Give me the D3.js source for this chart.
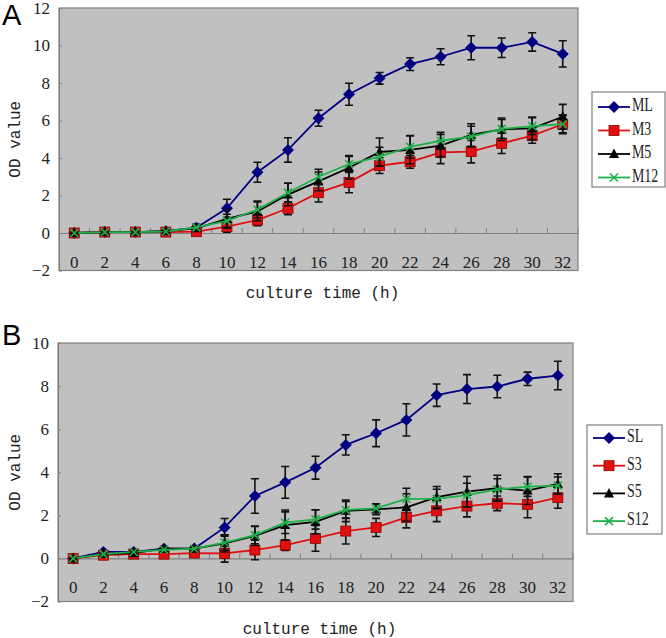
<!DOCTYPE html>
<html><head><meta charset="utf-8">
<script src="https://cdn.jsdelivr.net/npm/d3@7"></script>
<style>body{margin:0;background:#fff;}svg{display:block;}</style>
</head><body>
<svg id="chart" width="666" height="638"></svg>
<script>
const categories = [0,2,4,6,8,10,12,14,16,18,20,22,24,26,28,30,32];

// Panel A
const ML  = [0,0.05,0.05,0.1,0.28,1.32,3.24,4.43,6.12,7.4,8.25,9.01,9.4,9.88,9.88,10.19,9.55];
const MLe = [0.02,0.03,0.03,0.05,0.2,0.48,0.53,0.65,0.43,0.59,0.31,0.34,0.43,0.64,0.52,0.49,0.7];
const M3  = [0,0.05,0.05,0.05,0.07,0.34,0.69,1.32,2.15,2.7,3.59,3.8,4.3,4.34,4.78,5.19,5.8];
const M3e = [0.02,0.03,0.03,0.05,0.1,0.3,0.3,0.35,0.5,0.55,0.42,0.35,0.6,0.6,0.54,0.4,0.45];
const M5  = [0,0.05,0.05,0.1,0.25,0.75,1.15,2.05,2.75,3.48,4.32,4.43,4.66,5.23,5.53,5.58,6.2];
const M5e = [0.02,0.03,0.03,0.05,0.15,0.5,0.5,0.6,0.5,0.6,0.75,0.75,0.6,0.6,0.6,0.6,0.66];
const M12 = [0,0.05,0.05,0.08,0.3,0.65,1.25,2.15,3.0,3.68,4.07,4.6,4.92,5.14,5.55,5.7,5.8];
const M12e= [0.02,0.03,0.03,0.05,0.15,0.35,0.45,0.5,0.4,0.45,0.5,0.6,0.45,0.55,0.5,0.45,0.5];

// Panel B
const SL  = [0,0.3,0.3,0.45,0.46,1.44,2.9,3.53,4.21,5.27,5.81,6.43,7.58,7.86,7.98,8.34,8.49];
const SLe = [0.02,0.05,0.05,0.08,0.1,0.41,0.8,0.74,0.53,0.47,0.62,0.75,0.52,0.67,0.52,0.31,0.66];
const S3  = [0,0.15,0.2,0.2,0.25,0.23,0.39,0.62,0.93,1.27,1.44,1.9,2.21,2.43,2.56,2.51,2.82];
const S3e = [0.02,0.05,0.05,0.05,0.08,0.4,0.45,0.25,0.6,0.6,0.42,0.48,0.5,0.5,0.34,0.62,0.49];
const S5  = [0,0.2,0.25,0.45,0.45,0.7,1.05,1.55,1.7,2.21,2.28,2.37,2.84,3.1,3.26,3.15,3.46];
const S5e = [0.02,0.05,0.05,0.1,0.1,0.4,0.45,0.7,0.56,0.5,0.25,0.63,0.5,0.7,0.6,0.65,0.47];
const S12 = [0,0.2,0.3,0.4,0.45,0.73,1.08,1.66,1.81,2.25,2.32,2.76,2.76,2.94,3.2,3.33,3.38];
const S12e= [0.02,0.05,0.05,0.1,0.1,0.35,0.4,0.5,0.45,0.4,0.2,0.5,0.45,0.55,0.5,0.45,0.4];

const yTicksA = [-2,0,2,4,6,8,10,12];
const yTicksB = [-2,0,2,4,6,8,10];
const namesA = ["ML","M3","M5","M12"];
const namesB = ["SL","S3","S5","S12"];

const colors = ["#000080","#e01010","#000000","#1fb04a"];
const shapes = ["diamond","square","triangle","x"];

const SERIF = "'Liberation Serif', 'Times New Roman', serif";
const MONO = "'Liberation Mono', 'DejaVu Sans Mono', monospace";

const svg = d3.select("#chart");

function marker(g, shape, color, cx, cy) {
  if (shape === "diamond") {
    g.append("path").attr("d", `M${cx},${cy-6}L${cx+6},${cy}L${cx},${cy+6}L${cx-6},${cy}Z`)
      .attr("fill", color);
  } else if (shape === "square") {
    g.append("rect").attr("x",cx-5).attr("y",cy-5).attr("width",10).attr("height",10)
      .attr("fill", color).attr("stroke","#8a0000").attr("stroke-width",0.8);
  } else if (shape === "triangle") {
    g.append("path").attr("d", `M${cx},${cy-5.5}L${cx+5},${cy+4}L${cx-5},${cy+4}Z`)
      .attr("fill", color);
  } else {
    g.append("path").attr("d", `M${cx-4},${cy-4}L${cx+4},${cy+4}M${cx-4},${cy+4}L${cx+4},${cy-4}`)
      .attr("stroke", color).attr("stroke-width",1.6).attr("fill","none");
  }
}

function panel(cfg) {
  const {left,right,top,bottom,yDomain,yTicks,series,errors,names,letter,legend} = cfg;
  const g = svg.append("g");
  const x = d3.scaleBand().domain(categories).range([left,right]).padding(0);
  const y = d3.scaleLinear().domain(yDomain).range([bottom,top]);
  const cx = d => x(d) + x.bandwidth()/2;

  g.append("rect").attr("x",left).attr("y",top).attr("width",right-left).attr("height",bottom-top)
    .attr("fill","#c0c0c0").attr("stroke","#808080").attr("stroke-width",1.2);

  // y axis
  const ya = g.append("g").attr("transform",`translate(${left},0)`)
    .call(d3.axisLeft(y).tickValues(yTicks).tickSizeInner(-3).tickSizeOuter(0).tickPadding(9)
      .tickFormat(d => d < 0 ? "\u22122" : d));
  ya.attr("font-family",SERIF).attr("font-size",17);
  ya.select(".domain").attr("stroke","#808080");
  ya.selectAll(".tick line").attr("stroke","#808080");
  ya.selectAll("text").style("font-family",SERIF).style("font-size","17px").attr("fill","#222");

  // x axis at y=0
  const xa = g.append("g").attr("transform",`translate(0,${y(0)})`)
    .call(d3.axisBottom(x).tickSize(0).tickPadding(0));
  xa.attr("font-family",SERIF).attr("font-size",17);
  xa.select(".domain").attr("stroke","#808080").attr("stroke-width",1.2);
  xa.selectAll("text").attr("y",29).attr("dy","0.35em")
    .style("font-family",SERIF).style("font-size","17px").attr("fill","#222");
  const bounds = categories.map(c => x(c)).concat([right]);
  g.selectAll(".xb").data(bounds.slice(1)).enter().append("line")
    .attr("x1",d=>d).attr("x2",d=>d).attr("y1",y(0)).attr("y2",y(0)-5)
    .attr("stroke","#808080").attr("stroke-width",1);

  // series
  series.forEach((vals, si) => {
    const sg = g.append("g");
    const line = d3.line().x((d,i)=>cx(categories[i])).y(d=>y(d));
    sg.append("path").datum(vals).attr("d", line).attr("fill","none")
      .attr("stroke", colors[si]).attr("stroke-width",1.8);
    vals.forEach((v,i) => {
      const e = errors[si][i];
      const px = cx(categories[i]);
      sg.append("path").attr("d",`M${px},${y(v-e)}V${y(v+e)}M${px-4},${y(v-e)}H${px+4}M${px-4},${y(v+e)}H${px+4}`)
        .attr("stroke","#111").attr("stroke-width",1.6).attr("fill","none");
    });
    vals.forEach((v,i) => marker(sg, shapes[si], colors[si], cx(categories[i]), y(v)));
  });

  // axis titles
  g.append("text").attr("x",(left+right)/2+4).attr("y",cfg.xTitleY).attr("text-anchor","middle")
    .attr("dominant-baseline","middle").style("font-family",MONO).style("font-size","16px")
    .attr("fill","#222").text("culture time (h)");
  g.append("text").attr("transform",`translate(16,${(top+bottom)/2}) rotate(-90)`).attr("text-anchor","middle")
    .attr("dominant-baseline","middle").style("font-family",MONO).style("font-size","16px")
    .attr("fill","#222").text("OD value");
  g.append("text").attr("x",2).attr("y",cfg.letterY).style("font-family","'Liberation Sans', Arial, sans-serif").style("font-size","29px")
    .attr("fill","#000").text(letter);

  // legend
  const L = legend;
  g.append("rect").attr("x",L.x).attr("y",L.y).attr("width",L.w).attr("height",L.h)
    .attr("fill","#fff").attr("stroke","#808080").attr("stroke-width",1.2);
  names.forEach((n,i) => {
    const ly = L.y + L.first + i*L.step;
    g.append("line").attr("x1",L.x+6).attr("x2",L.x+38).attr("y1",ly).attr("y2",ly)
      .attr("stroke",colors[i]).attr("stroke-width",1.8);
    marker(g, shapes[i], colors[i], L.x+22, ly);
    g.append("text").attr("x",L.x+40).attr("y",ly).attr("dominant-baseline","middle")
      .style("font-family",SERIF).style("font-size","17px").attr("fill","#222")
      .attr("transform",`translate(${L.x+40},${ly}) scale(0.82,1.05) translate(${-(L.x+40)},${-ly})`).text(n);
  });
}

panel({left:59,right:578,top:8,bottom:270.5,yDomain:[-2,12],yTicks:yTicksA,
  series:[ML,M3,M5,M12],errors:[MLe,M3e,M5e,M12e],names:namesA,letter:"A",letterY:25,xTitleY:294,
  legend:{x:592,y:92,w:73,h:95,first:15,step:23.5}});
panel({left:58,right:573,top:343,bottom:601.5,yDomain:[-2,10],yTicks:yTicksB,
  series:[SL,S3,S5,S12],errors:[SLe,S3e,S5e,S12e],names:namesB,letter:"B",letterY:345,xTitleY:630,
  legend:{x:587,y:425,w:75,h:109,first:13,step:27.7}});
</script>
</body></html>
